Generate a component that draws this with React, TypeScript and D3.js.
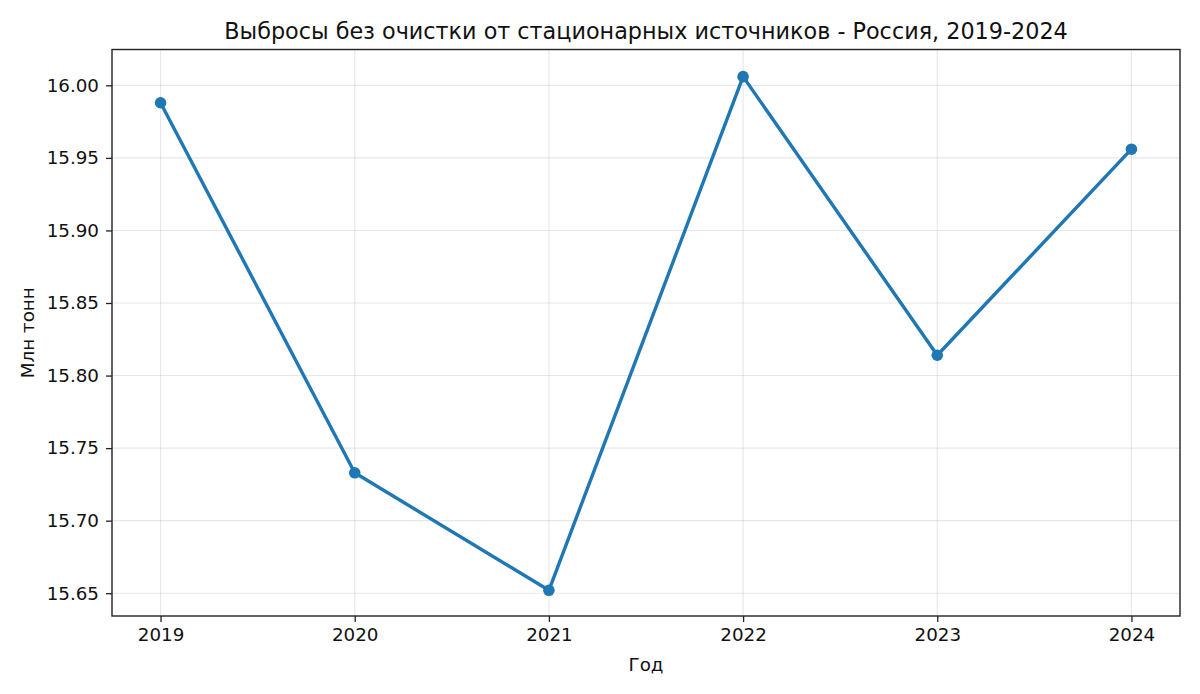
import React from 'react';
import { scaleLinear, select, axisLeft, axisBottom, line } from 'd3';

const years = [2019, 2020, 2021, 2022, 2023, 2024];
const emissions = [15.988, 15.733, 15.652, 16.006, 15.814, 15.956];
const yTicks = [15.65, 15.70, 15.75, 15.80, 15.85, 15.90, 15.95, 16.00];

const title = 'Выбросы без очистки от стационарных источников - Россия, 2019-2024';
const xLabel = 'Год';
const yLabel = 'Млн тонн';

const W = 1200;
const H = 694;
const margin = { left: 112, right: 20, top: 49.5, bottom: 78 };
const color = '#1f77b4';
const font = '"DejaVu Sans", sans-serif';

const App: React.FC = () => {
    const ref = React.useRef<SVGSVGElement>(null);

    React.useEffect(() => {
        const svg = select(ref.current);
        svg.selectAll('*').remove();

        const pw = W - margin.left - margin.right;
        const ph = H - margin.top - margin.bottom;

        const x = scaleLinear().domain([2018.75, 2024.25]).range([0, pw]);
        const y = scaleLinear().domain([15.6343, 16.0247]).range([ph, 0]);

        svg.append('rect').attr('width', W).attr('height', H).attr('fill', 'white');

        const g = svg.append('g').attr('transform', `translate(${margin.left},${margin.top})`);

        // grid
        g.append('g').selectAll('line').data(years).enter().append('line')
            .attr('x1', d => x(d)).attr('x2', d => x(d))
            .attr('y1', 0).attr('y2', ph)
            .attr('stroke', '#b0b0b0').attr('stroke-opacity', 0.3).attr('stroke-width', 1.1);
        g.append('g').selectAll('line').data(yTicks).enter().append('line')
            .attr('x1', 0).attr('x2', pw)
            .attr('y1', d => y(d)).attr('y2', d => y(d))
            .attr('stroke', '#b0b0b0').attr('stroke-opacity', 0.3).attr('stroke-width', 1.1);

        const xAxis = axisBottom(x).tickValues(years).tickFormat(d => String(d)).tickSizeOuter(0).tickSize(6).tickPadding(6);
        const yAxis = axisLeft(y).tickValues(yTicks).tickFormat(d => (+d).toFixed(2)).tickSizeOuter(0).tickSize(6).tickPadding(7);

        const xg = g.append('g').attr('transform', `translate(0,${ph})`).call(xAxis);
        const yg = g.append('g').call(yAxis);
        [xg, yg].forEach(a => {
            a.select('.domain').remove();
            a.selectAll('line').attr('stroke', '#222').attr('stroke-width', 1.3);
            a.selectAll('text').attr('font-family', font).attr('font-size', 18.3).attr('fill', '#111');
        });

        // frame
        g.append('rect').attr('width', pw).attr('height', ph)
            .attr('fill', 'none').attr('stroke', '#222').attr('stroke-width', 1.4);

        const pts = years.map((yr, i) => [yr, emissions[i]] as [number, number]);
        const path = line<[number, number]>().x(d => x(d[0])).y(d => y(d[1]));
        g.append('path').attr('d', path(pts)!)
            .attr('fill', 'none').attr('stroke', color).attr('stroke-width', 3.4)
            .attr('stroke-linejoin', 'round');
        g.append('g').selectAll('circle').data(pts).enter().append('circle')
            .attr('cx', d => x(d[0])).attr('cy', d => y(d[1])).attr('r', 5.8)
            .attr('fill', color);

        svg.append('text').attr('x', margin.left + pw / 2).attr('y', 39)
            .attr('text-anchor', 'middle').attr('font-family', font).attr('font-size', 22.3).attr('fill', '#111')
            .text(title);
        svg.append('text').attr('x', margin.left + pw / 2).attr('y', 671)
            .attr('text-anchor', 'middle').attr('font-family', font).attr('font-size', 18.3).attr('fill', '#111')
            .text(xLabel);
        svg.append('text').attr('transform', `translate(34,${margin.top + ph / 2}) rotate(-90)`)
            .attr('text-anchor', 'middle').attr('font-family', font).attr('font-size', 18.3).attr('fill', '#111')
            .text(yLabel);
    }, []);

    return (
        <svg ref={ref} width={W} height={H} style={{ position: 'absolute', left: 0, top: 0 }} />
    );
};

export default App;
